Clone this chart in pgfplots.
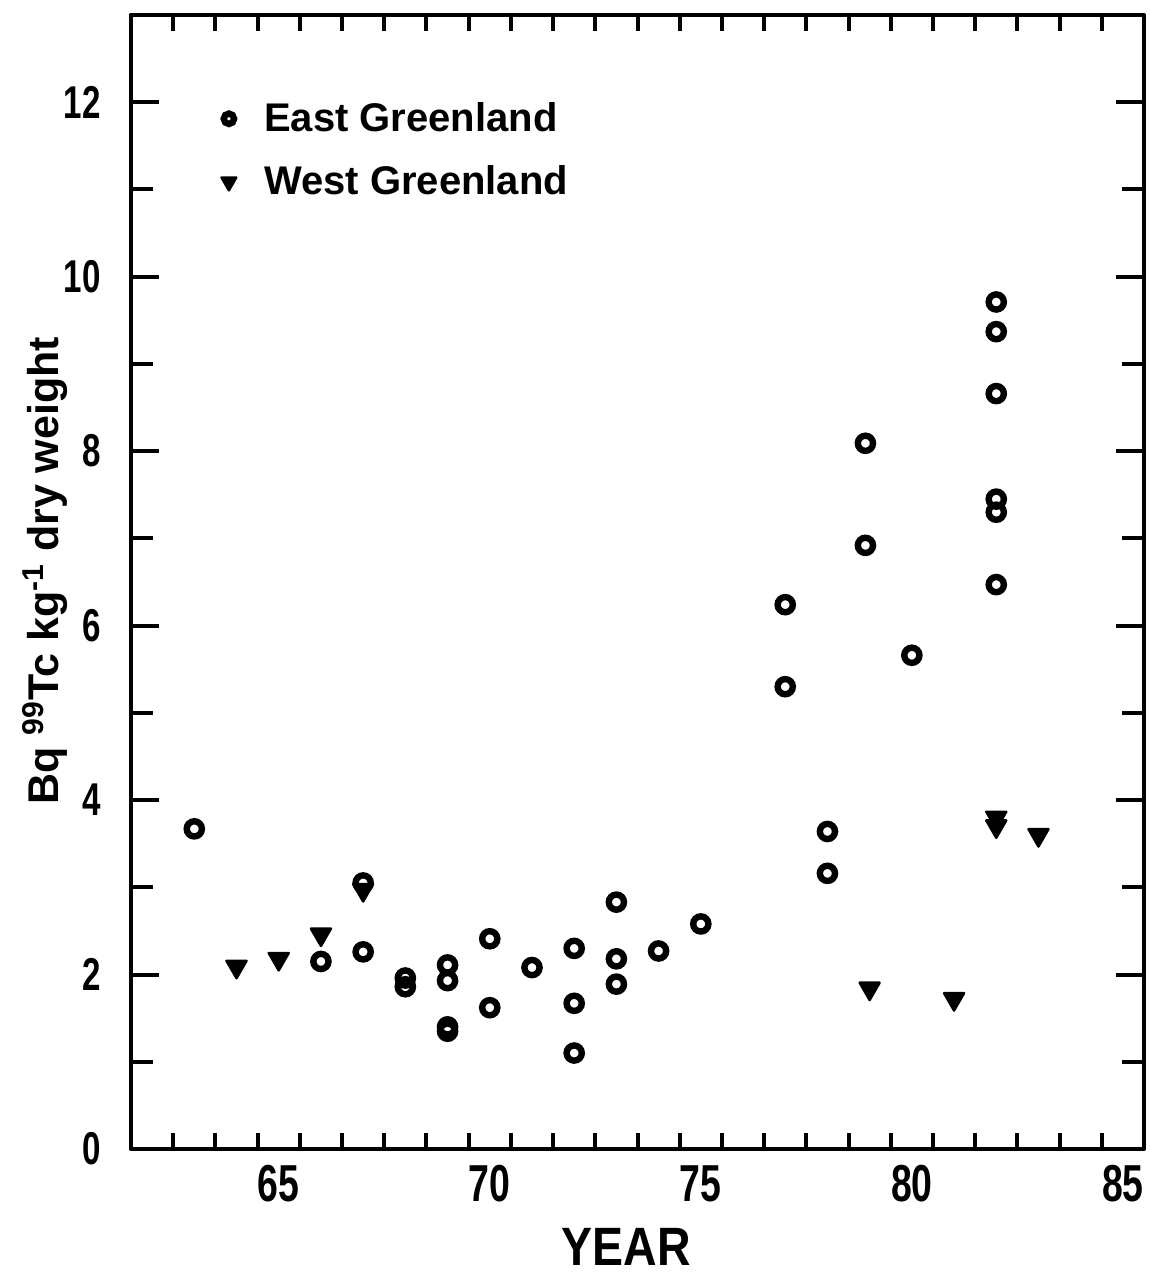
\documentclass[border=0pt]{standalone}
\usepackage{fontspec}
\setmainfont{Liberation Sans}
\newfontfamily\numfont[FakeStretch=0.72]{Liberation Sans}
\newfontfamily\yearfont[FakeStretch=0.86]{Liberation Sans}
\usepackage{pgfplots}
\pgfplotsset{compat=1.18}

% legend images: a single mark of a given size, followed by a gap
\pgfplotsset{
  mark legend/.style={legend image code/.code={%
    \path[draw=none] (0cm,0cm) -- (0.55cm,0cm);
    \draw[mark repeat=1,##1, mark size=#1] plot coordinates {(0cm,0cm)};}},
}

% Tc-99 in seaweed, yearly samples plotted at mid-year
\pgfplotstableread{
year  tc
63.5  3.67
66.5  2.15
67.5  2.26
67.5  3.05
68.5  1.96
68.5  1.86
69.5  2.11
69.5  1.93
69.5  1.40
69.5  1.35
70.5  2.41
70.5  1.62
71.5  2.08
72.5  2.30
72.5  1.67
72.5  1.10
73.5  2.83
73.5  2.18
73.5  1.89
74.5  2.27
75.5  2.58
77.5  6.24
77.5  5.30
78.5  3.64
78.5  3.16
79.4  8.09
79.4  6.92
80.5  5.66
82.5  9.71
82.5  9.37
82.5  8.66
82.5  7.45
82.5  7.30
82.5  6.47
}\eastgreenland

\pgfplotstableread{
year  tc
64.5  2.09
65.5  2.18
66.5  2.46
67.5  2.97
79.5  1.84
81.5  1.72
82.5  3.80
82.5  3.70
83.5  3.60
}\westgreenland

\begin{document}
\begin{tikzpicture}
\begin{axis}[
  scale only axis,
  width=506.5pt, height=567pt,
  xmin=62, xmax=86, ymin=0, ymax=13,
  axis line style={line width=2.4pt, line join=round},
  every tick/.style={black, line width=2pt},
  tick align=inside,
  xtick={65.5,70.5,75.5,80.5,85.5},
  xticklabels={65,70,75,80,85},
  major x tick style={draw=none},
  minor xtick={63,64,...,85},
  minor tick length=8pt,
  ytick={0,2,...,12},
  major tick length=14pt,
  extra y ticks={1,3,...,11},
  extra y tick labels={},
  extra y tick style={major tick length=11pt},
  /pgf/number format/assume math mode=true,
  xticklabel style={font=\numfont\bfseries\fontsize{26}{26}\selectfont, inner sep=0pt, yshift=-8pt},
  yticklabel style={font=\numfont\bfseries\fontsize{23}{23}\selectfont, inner sep=0pt, xshift=-15pt},
  xlabel={YEAR},
  xlabel style={font=\yearfont\bfseries\fontsize{27}{27}\selectfont, at={(axis description cs:0.489,-0.086)}, anchor=center},
  ylabel={Bq \textsuperscript{99}Tc kg\textsuperscript{-1} dry weight},
  ylabel style={font=\bfseries\fontsize{21.5}{21.5}\selectfont, at={(axis description cs:-0.085,0.51)}, rotate=0, anchor=center},
  legend cell align=left,
  legend style={draw=none, fill=none, at={(axis description cs:0.083,0.93)}, anchor=north west,
    font=\bfseries\fontsize{20}{20}\selectfont, row sep=11.5pt},
]
\addplot[only marks, mark=o, mark size=3.8pt, line width=3.2pt, black,
  mark legend=2.6pt]
  table[x=year, y=tc] {\eastgreenland};
\addlegendentry{East Greenland}
\addplot[only marks, mark=triangle*, mark size=5.8pt, black,
  mark options={rotate=180, fill=black, line width=1.2pt, line join=round},
  mark legend=4.3pt]
  table[x=year, y=tc] {\westgreenland};
\addlegendentry{West Greenland}
\end{axis}
\path ([shift={(-65.5pt,-63pt)}]current axis.south west)
  rectangle ([shift={(3pt,7.5pt)}]current axis.north east);
\end{tikzpicture}
\end{document}
